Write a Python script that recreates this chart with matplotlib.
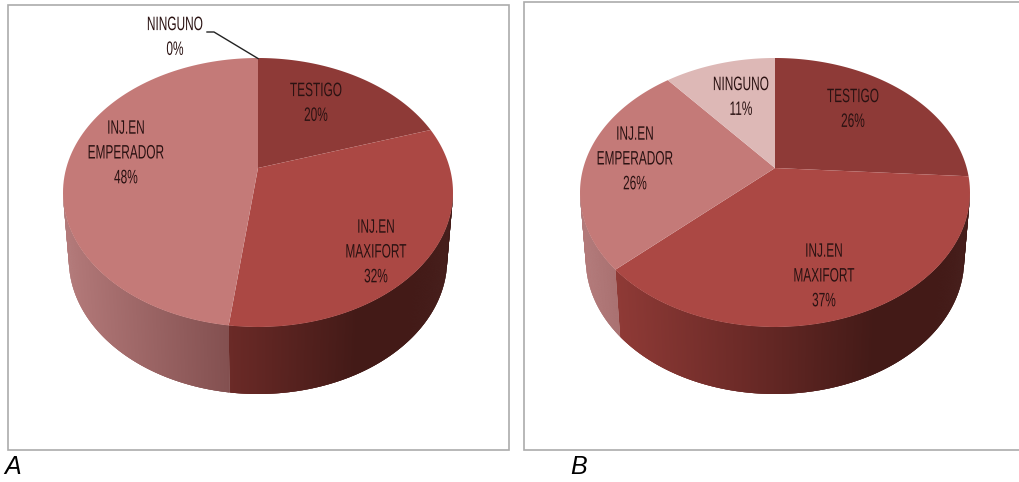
import numpy as np
import matplotlib
matplotlib.use("Agg")
import matplotlib.pyplot as plt
import matplotlib.patheffects as pe
from matplotlib.collections import PolyCollection
from matplotlib.transforms import Transform, Affine2D
from matplotlib.path import Path
from matplotlib.patches import Rectangle

# ---- data ----
categories = ["TESTIGO", "INJ.EN\nMAXIFORT", "INJ.EN\nEMPERADOR", "NINGUNO"]
values_a = [20, 32, 48, 0]
values_b = [26, 37, 26, 11]
top_colors = ["#8E3A37", "#AB4844", "#C47A78", "#DDB8B6"]
panel_names = ["A", "B"]

W, H = 1019, 482
RX, RY, DEPTH = 195.0, 134.5, 67.0
CY = 192.5
APEX_OFFSET = 0.182   # pie centre sits above the ellipse centre (perspective)
BOTTOM_SHRINK = 0.97
INK = "#2A1212"
NARROW = 0.61


class Perspective(Transform):
    """Projective map of the unit disc on itself; moves the centre upward."""
    input_dims = output_dims = 2

    def __init__(self, c):
        super().__init__()
        self.c = c

    def transform_non_affine(self, xy):
        xy = np.asarray(xy, float)
        d = 1 + self.c * xy[:, 1]
        return np.column_stack((xy[:, 0] * np.sqrt(1 - self.c ** 2) / d,
                                (xy[:, 1] + self.c) / d))

    def transform_path_non_affine(self, path):
        verts = []
        codes = []
        for seg, code in path.iter_bezier():
            if code == Path.MOVETO:
                verts.append(seg.control_points[0])
                codes.append(Path.MOVETO)
            else:
                pts = seg(np.linspace(0, 1, 25)[1:])
                verts.extend(pts)
                codes.extend([Path.LINETO] * len(pts))
        return Path(self.transform_non_affine(np.array(verts)), codes)


class SqueezeX(pe.AbstractPathEffect):
    """Horizontally condense drawn glyphs around a fixed pixel column."""

    def __init__(self, xpix, factor):
        super().__init__()
        self.xpix = xpix
        self.factor = factor

    def draw_path(self, renderer, gc, tpath, affine, rgbFace=None):
        squeeze = Affine2D().translate(-self.xpix, 0).scale(self.factor, 1).translate(self.xpix, 0)
        renderer.draw_path(gc, tpath, affine + squeeze, rgbFace)


# wall shading: colour stops along x (offset from pie centre, px)
wall_stops = {
    1: ([-190, -160, -29, 100, 195], ["#8F3A36", "#8F3A36", "#6B2A27", "#431A17", "#431A17"]),
    2: ([-195, -29, 195], ["#B47A7A", "#835050", "#835050"]),
    0: ([-195, 195], ["#5A2320", "#431A17"]),
    3: ([-195, 195], ["#A88080", "#A88080"]),
}


def wall_rgb(idx, xpix):
    xs, cols = wall_stops[idx]
    rgb = np.array([matplotlib.colors.to_rgb(c) for c in cols])
    return np.column_stack([np.interp(xpix, xs, rgb[:, k]) for k in range(3)])


fig = plt.figure(figsize=(W / 100, H / 100), dpi=100, facecolor="white")
bg = fig.add_axes([0, 0, 1, 1], zorder=0)
bg.set_xlim(0, W)
bg.set_ylim(H, 0)
bg.axis("off")
top = fig.add_axes([0, 0, 1, 1], zorder=5)
top.set_xlim(0, W)
top.set_ylim(H, 0)
top.axis("off")


def draw_pie(cx, values):
    x0, x1 = cx - RX, cx + RX
    y0, y1 = CY - RY, CY + RY
    ax = fig.add_axes([x0 / W, 1 - y1 / H, (x1 - x0) / W, (y1 - y0) / H], zorder=2)
    proj = Perspective(APEX_OFFSET)
    wedges, _ = ax.pie(values, colors=top_colors, startangle=90, counterclock=False,
                       radius=1, wedgeprops=dict(linewidth=0))
    for w in wedges:
        w.set_transform(proj + ax.transData)
        w.set_clip_on(False)
        w.set_zorder(3)
    ax.set_aspect("auto")
    ax.set_xlim(-1, 1)
    ax.set_ylim(-1, 1)
    ax.axis("off")

    # side wall of each slice, as overlapping vertical strips painted left to right
    dep = DEPTH / RY
    start = 0.0
    total = sum(values)
    for i, v in enumerate(values):
        if v == 0:
            continue
        end = start + v / total * 2 * np.pi
        th = np.linspace(start, end, 900)
        start = end
        pts = proj.transform_non_affine(np.column_stack((np.sin(th), np.cos(th))))
        pts = pts[pts[:, 1] <= 0.0]
        if len(pts) < 2:
            continue
        pts = pts[np.argsort(pts[:, 0])]
        xt, yt = pts[:, 0], pts[:, 1]
        xb, yb = xt * BOTTOM_SHRINK, yt - dep
        polys = []
        for j in range(len(xt) - 1):
            k = min(j + 3, len(xt) - 1)
            polys.append([(xb[j], yb[j]), (xb[k], yb[k]), (xt[k], yt[k]), (xt[j], yt[j])])
        mid = (xt[:-1] + xt[1:]) / 2 * RX
        ax.add_collection(PolyCollection(polys, facecolors=wall_rgb(i, mid), edgecolors="none",
                                         linewidths=0, clip_on=False, zorder=2))
    return ax


def label(x, y, s):
    top.text(x, y, s, family="Liberation Sans", fontsize=14, color=INK, ha="center",
             va="center", linespacing=1.6, zorder=10,
             path_effects=[SqueezeX(x, NARROW)])


# frames
bg.add_patch(Rectangle((8, 5), 501, 445, fc="white", ec="#ABABAB", lw=1.2))
bg.add_patch(Rectangle((524, 2), 510, 448, fc="white", ec="#ABABAB", lw=1.2))

draw_pie(258, values_a)
draw_pie(775, values_b)

# slice labels, panel A
label(316, 104, f"{categories[0]}\n{values_a[0]}%")
label(376, 253, f"{categories[1]}\n{values_a[1]}%")
label(126, 154, f"{categories[2]}\n{values_a[2]}%")
label(175, 38, f"{categories[3]}\n{values_a[3]}%")
top.plot([207, 214, 258], [32, 32, 58.5], color="#222222", lw=1.0, zorder=9)

# slice labels, panel B
label(853, 110, f"{categories[0]}\n{values_b[0]}%")
label(824, 277, f"{categories[1]}\n{values_b[1]}%")
label(635, 160, f"{categories[2]}\n{values_b[2]}%")
label(741, 98, f"{categories[3]}\n{values_b[3]}%")

# panel letters
top.text(13, 467, panel_names[0], family="Liberation Sans", style="italic", fontsize=18,
         ha="center", va="center", color="black")
top.text(579, 467, panel_names[1], family="Liberation Sans", style="italic", fontsize=18,
         ha="center", va="center", color="black")

fig.savefig("out.png", dpi=100, facecolor="white")
